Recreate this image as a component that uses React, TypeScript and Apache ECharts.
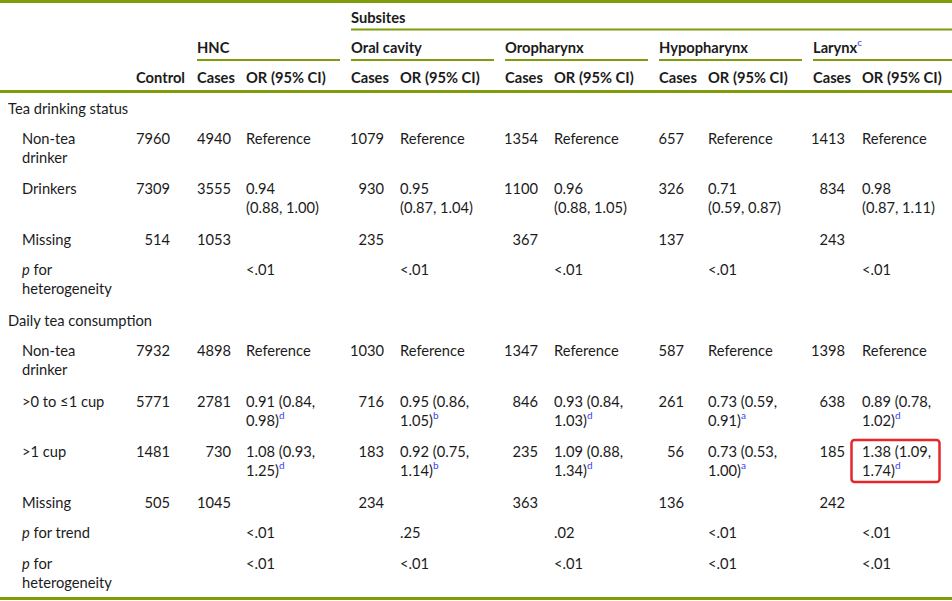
import React, { useEffect, useRef } from "react";
import * as echarts from "echarts";

// ---------- data ----------
const subsitesTitle = "Subsites";
const groupNames = ["HNC", "Oral cavity", "Oropharynx", "Hypopharynx", "Larynx"];
const groupNameNotes = ["", "", "", "", "c"];
const controlHeader = "Control";
const casesHeader = "Cases";
const orHeader = "OR (95% CI)";
const sectionTitles = ["Tea drinking status", "Daily tea consumption"];

const rowLabels = [
  "Non-tea\ndrinker",
  "Drinkers",
  "Missing",
  "{it|p} for\nheterogeneity",
  "Non-tea\ndrinker",
  ">0 to ≤1 cup",
  ">1 cup",
  "Missing",
  "{it|p} for trend",
  "{it|p} for\nheterogeneity",
];
const controlCounts = [7960, 7309, 514, null, 7932, 5771, 1481, 505, null, null];
const hncCases = [4940, 3555, 1053, null, 4898, 2781, 730, 1045, null, null];
const oralCases = [1079, 930, 235, null, 1030, 716, 183, 234, null, null];
const oroCases = [1354, 1100, 367, null, 1347, 846, 235, 363, null, null];
const hypoCases = [657, 326, 137, null, 587, 261, 56, 136, null, null];
const larynxCases = [1413, 834, 243, null, 1398, 638, 185, 242, null, null];

const hncOR = ["Reference", "0.94\n(0.88, 1.00)", "", "<.01", "Reference", "0.91 (0.84,\n0.98)", "1.08 (0.93,\n1.25)", "", "<.01", "<.01"];
const oralOR = ["Reference", "0.95\n(0.87, 1.04)", "", "<.01", "Reference", "0.95 (0.86,\n1.05)", "0.92 (0.75,\n1.14)", "", ".25", "<.01"];
const oroOR = ["Reference", "0.96\n(0.88, 1.05)", "", "<.01", "Reference", "0.93 (0.84,\n1.03)", "1.09 (0.88,\n1.34)", "", ".02", "<.01"];
const hypoOR = ["Reference", "0.71\n(0.59, 0.87)", "", "<.01", "Reference", "0.73 (0.59,\n0.91)", "0.73 (0.53,\n1.00)", "", "<.01", "<.01"];
const larynxOR = ["Reference", "0.98\n(0.87, 1.11)", "", "<.01", "Reference", "0.89 (0.78,\n1.02)", "1.38 (1.09,\n1.74)", "", "<.01", "<.01"];

const hncNotes = ["", "", "", "", "", "d", "d", "", "", ""];
const oralNotes = ["", "", "", "", "", "b", "b", "", "", ""];
const oroNotes = ["", "", "", "", "", "d", "d", "", "", ""];
const hypoNotes = ["", "", "", "", "", "a", "a", "", "", ""];
const larynxNotes = ["", "", "", "", "", "d", "d", "", "", ""];

const highlightGroup = 4;
const highlightRow = 6;

// ---------- layout ----------
const W = 952;
const H = 601;
const GREEN = "#7e9c0b";
const TEXT = "#1b1b1b";
const SUP = "#3c3cf0";
const FONT = "Lato";
const FS = 14.7;
const LH = 19;

const groupX = [197, 351, 505, 659, 813];
const orX = [246, 400, 554, 708, 862];
const casesRight = [231, 384, 538, 684, 845];
const underlineRight = [340, 494, 648, 802, 952];
const controlRight = 170;
const controlHeaderRight = 185;
const rowY = [138, 188, 239, 269, 350, 401, 451, 502, 532, 563];
const sectionY = [108, 320];

const richStyles = {
  sup: { fontFamily: FONT, fontSize: 10, fill: SUP, verticalAlign: "top", lineHeight: 15, fontWeight: "normal" },
  it: { fontFamily: FONT, fontSize: FS, fontStyle: "italic", fill: TEXT, lineHeight: LH },
};

function textEl(x: number, yCenter: number, text: string, align = "left", bold = false) {
  return {
    type: "text",
    x,
    y: yCenter - LH / 2 - 0.5,
    silent: true,
    style: {
      text,
      fontFamily: FONT,
      fontSize: FS,
      fontWeight: bold ? "bold" : "normal",
      fill: TEXT,
      align,
      textAlign: align,
      verticalAlign: "top",
      textVerticalAlign: "top",
      lineHeight: LH,
      rich: richStyles,
    },
  };
}

function ruleEl(x1: number, x2: number, y: number, h: number) {
  return {
    type: "rect",
    silent: true,
    shape: { x: x1, y, width: x2 - x1, height: h },
    style: { fill: GREEN },
  };
}

function buildElements() {
  const els: any[] = [];
  const casesByGroup = [hncCases, oralCases, oroCases, hypoCases, larynxCases];
  const orByGroup = [hncOR, oralOR, oroOR, hypoOR, larynxOR];
  const notesByGroup = [hncNotes, oralNotes, oroNotes, hypoNotes, larynxNotes];

  // rules
  els.push(ruleEl(0, W, 0, 3));
  els.push(ruleEl(groupX[1], W, 28.5, 2));
  groupNames.forEach((_, g) => els.push(ruleEl(groupX[g], underlineRight[g], 59, 2)));
  els.push(ruleEl(0, W, 90, 3));
  els.push(ruleEl(0, W, 597, 3));

  // headers
  els.push(textEl(groupX[1], 17, subsitesTitle, "left", true));
  groupNames.forEach((name, g) => {
    const note = groupNameNotes[g] ? `{sup|${groupNameNotes[g]}}` : "";
    els.push(textEl(groupX[g], 47, name + note, "left", true));
    els.push(textEl(groupX[g], 77, casesHeader, "left", true));
    els.push(textEl(orX[g], 77, orHeader, "left", true));
  });
  els.push(textEl(controlHeaderRight, 77, controlHeader, "right", true));

  // sections
  sectionTitles.forEach((t, i) => els.push(textEl(8, sectionY[i], t)));

  // rows
  rowLabels.forEach((label, r) => {
    const y = rowY[r];
    els.push(textEl(22, y, label));
    if (controlCounts[r] != null) els.push(textEl(controlRight, y, String(controlCounts[r]), "right"));
    groupNames.forEach((_, g) => {
      const c = casesByGroup[g][r];
      if (c != null) els.push(textEl(casesRight[g], y, String(c), "right"));
      const or = orByGroup[g][r];
      if (or) {
        const note = notesByGroup[g][r] ? `{sup|${notesByGroup[g][r]}}` : "";
        els.push(textEl(orX[g], y, or + note));
      }
    });
  });

  // highlight box
  const hy = rowY[highlightRow];
  els.push({
    type: "rect",
    silent: true,
    shape: { x: orX[highlightGroup] - 10.5, y: hy - 11, width: 88, height: 42, r: 3 },
    style: { fill: "none", stroke: "#e6262b", lineWidth: 2.5 },
  });

  return els;
}

export default function App() {
  const ref = useRef<HTMLDivElement>(null);
  useEffect(() => {
    if (!ref.current) return;
    const chart = echarts.init(ref.current, undefined, { renderer: "svg", width: W, height: H });
    chart.setOption({
      animation: false,
      backgroundColor: "#ffffff",
      graphic: { elements: buildElements() },
    });
    return () => chart.dispose();
  }, []);
  return (
    <div
      ref={ref}
      style={{ position: "fixed", left: 0, top: 0, width: W, height: H, background: "#fff" }}
    />
  );
}
